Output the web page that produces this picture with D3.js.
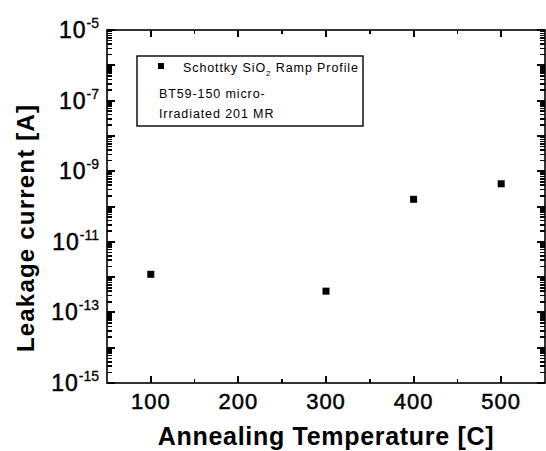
<!DOCTYPE html>
<html>
<head>
<meta charset="utf-8">
<script src="https://cdn.jsdelivr.net/npm/d3@7"></script>
<style>
  body { margin: 0; background: #fff; }
  text { font-family: "Liberation Sans", Arial, sans-serif; fill: #000; }
</style>
</head>
<body>
<svg id="chart"></svg>
<script>
// data
const temps = [100, 300, 400, 500];
const leakage = [1.2e-12, 4e-13, 1.6e-10, 4.4e-10];
const xTickValues = [100, 200, 300, 400, 500];
const yLabelExponents = [-5, -7, -9, -11, -13, -15];
const legendLines = ['BT59-150 micro-', 'Irradiated 201 MR'];

const W = 546, H = 451;
const margin = { top: 30, right: 1, bottom: 68, left: 107 };
const width = W - margin.left - margin.right;
const height = H - margin.top - margin.bottom;

const svg = d3.select('#chart').attr('width', W).attr('height', H);
const g = svg.append('g').attr('transform', `translate(${margin.left},${margin.top})`);

const x = d3.scaleLinear().domain([50, 550]).range([0, width]);
const y = d3.scaleLog().domain([1e-15, 1e-5]).range([height, 0]);

// tick marks, all pointing into the plot
const xMinor = d3.range(150, 550, 100);
const yMajor = d3.range(-15, -4).map(e => Math.pow(10, e));
const yMinor = [];
for (let e = -15; e < -5; e++) for (let k = 2; k <= 9; k++) yMinor.push(k * Math.pow(10, e));

const tickSegs = [];
xTickValues.forEach(v => {
  tickSegs.push({ x1: x(v), x2: x(v), y1: height, y2: height - 7, w: 2 });
  tickSegs.push({ x1: x(v), x2: x(v), y1: 0, y2: 7, w: 2 });
});
xMinor.forEach(v => {
  tickSegs.push({ x1: x(v), x2: x(v), y1: height, y2: height - 4, w: 1.6 });
  tickSegs.push({ x1: x(v), x2: x(v), y1: 0, y2: 4, w: 1.6 });
});
yMajor.forEach(v => {
  tickSegs.push({ x1: 0, x2: 8, y1: y(v), y2: y(v), w: 2 });
  tickSegs.push({ x1: width, x2: width - 8, y1: y(v), y2: y(v), w: 2 });
});
yMinor.forEach(v => {
  tickSegs.push({ x1: 0, x2: 5, y1: y(v), y2: y(v), w: 1.6 });
  tickSegs.push({ x1: width, x2: width - 5, y1: y(v), y2: y(v), w: 1.6 });
});

g.selectAll('line.tk')
  .data(tickSegs)
  .join('line')
  .attr('class', 'tk')
  .attr('x1', d => d.x1).attr('x2', d => d.x2)
  .attr('y1', d => d.y1).attr('y2', d => d.y2)
  .attr('stroke', '#000')
  .attr('stroke-width', d => d.w)
  .attr('shape-rendering', 'crispEdges');

// frame
g.append('rect')
  .attr('width', width).attr('height', height)
  .attr('fill', 'none').attr('stroke', '#000').attr('stroke-width', 1.6);

// x tick labels
g.selectAll('.xlab').data(xTickValues).join('text')
  .attr('class', 'xlab')
  .attr('x', d => x(d)).attr('y', height + 26)
  .attr('text-anchor', 'middle')
  .style('font-size', '22px')
  .style('letter-spacing', '1px')
  .style('stroke', '#000').style('stroke-width', '0.5px')
  .text(d => d);

// y tick labels 10^n
const ylab = g.selectAll('.ylab').data(yLabelExponents).join('text')
  .attr('class', 'ylab')
  .attr('x', -8).attr('y', d => y(Math.pow(10, d)) + 8)
  .attr('text-anchor', 'end')
  .style('font-size', '23px')
  .style('letter-spacing', '1px')
  .style('stroke', '#000').style('stroke-width', '0.5px');
ylab.append('tspan').text('10');
ylab.append('tspan').attr('dy', -10).style('font-size', '14px').style('letter-spacing', '0px')
  .style('stroke-width', '0.3px')
  .text(d => d);

// axis titles
svg.append('text')
  .attr('x', 326).attr('y', 445)
  .attr('text-anchor', 'middle')
  .style('font-size', '25px').style('font-weight', 'bold').style('letter-spacing', '0.7px')
  .text('Annealing Temperature [C]');

svg.append('text')
  .attr('transform', 'translate(34,228) rotate(-90)')
  .attr('text-anchor', 'middle')
  .style('font-size', '24px').style('font-weight', 'bold').style('letter-spacing', '1.2px')
  .text('Leakage current [A]');

// data points
g.selectAll('.pt').data(temps).join('rect')
  .attr('class', 'pt')
  .attr('x', d => x(d) - 3.5)
  .attr('y', (d, i) => y(leakage[i]) - 3.5)
  .attr('width', 7).attr('height', 7)
  .attr('fill', '#000');

// legend
const lg = svg.append('g').attr('transform', 'translate(137,56)');
lg.append('rect').attr('width', 226).attr('height', 70)
  .attr('fill', '#fff').attr('stroke', '#000').attr('stroke-width', 1.4);
lg.append('rect').attr('x', 21).attr('y', 7).attr('width', 6).attr('height', 6).attr('fill', '#000');
const t0 = lg.append('text').attr('x', 46).attr('y', 16)
  .style('font-size', '12.5px').style('letter-spacing', '0.9px');
t0.append('tspan').text('Schottky SiO');
t0.append('tspan').attr('dy', 4).style('font-size', '8px').text('2');
t0.append('tspan').attr('dy', -4).text(' Ramp Profile');
lg.selectAll('.ll').data(legendLines).join('text')
  .attr('class', 'll')
  .attr('x', 22).attr('y', (d, i) => 42 + i * 20)
  .style('font-size', '12.5px').style('letter-spacing', '0.9px')
  .text(d => d);
</script>
</body>
</html>
